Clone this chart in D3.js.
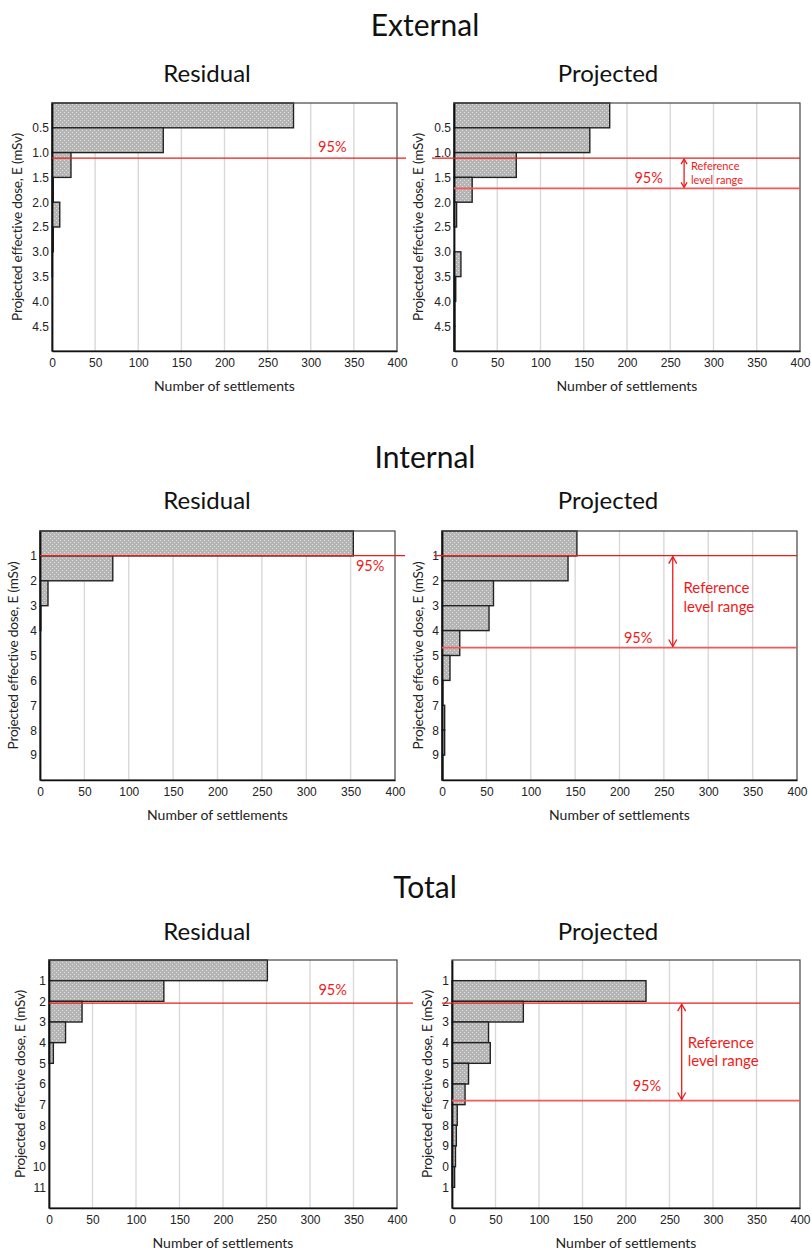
<!DOCTYPE html>
<html>
<head>
<meta charset="utf-8">
<script src="https://cdn.jsdelivr.net/npm/d3@7"></script>
<style>
  body { margin: 0; background: #fff; }
</style>
</head>
<body>
<div id="chart"></div>
<script>
// settlements per dose bin (top bin first)
const extResidual = [280, 129, 22, 1.5, 9, 1.5, 0.5, 0, 0, 0];
const extProjected = [180, 157, 72, 21, 3, 0, 8, 2, 1, 1];
const intResidual = [353, 82, 9, 1, 0, 0, 0, 0, 0, 0];
const intProjected = [152, 142, 58, 53, 20, 9, 1, 3, 3, 1];
const totResidual = [251, 132, 38, 19, 5, 0, 0, 0, 0, 0, 0, 0];
const totProjected = [0, 223, 82, 42, 44, 19, 15, 6, 5, 4, 3, 0];

// axis ticks
const countTicks = [0, 50, 100, 150, 200, 250, 300, 350, 400];
const extDoseTicks = [0.5, 1.0, 1.5, 2.0, 2.5, 3.0, 3.5, 4.0, 4.5];
const extDoseLabels = ["0.5", "1.0", "1.5", "2.0", "2.5", "3.0", "3.5", "4.0", "4.5"];
const intDoseTicks = [1, 2, 3, 4, 5, 6, 7, 8, 9];
const intDoseLabels = ["1", "2", "3", "4", "5", "6", "7", "8", "9"];
const totDoseTicks = [1, 2, 3, 4, 5, 6, 7, 8, 9, 10, 11];
const totResLabels = ["1", "2", "3", "4", "5", "6", "7", "8", "9", "10", "11"];
const totProjLabels = ["1", "2", "3", "4", "5", "6", "7", "8", "9", "0", "1"];

// dose levels of the red lines (mSv)
const ext95Residual = 1.11, ext95Projected = 1.72;
const int95Residual = 0.99, int95Projected = 4.68;
const tot95Residual = 2.09, tot95Projected = 6.8;

const sections = ["External", "Internal", "Total"];
const yTitle = "Projected effective dose, E (mSv)";
const xTitle = "Number of settlements";

const W = 811, H = 1250;
const red = "#ee1b1b";
const font = "Lato, 'Open Sans', sans-serif";
const tickFont = "'Liberation Sans', Arial, sans-serif";

const svg = d3.select("#chart").append("svg")
  .attr("width", W).attr("height", H);

const defs = svg.append("defs");
const pat = defs.append("pattern")
  .attr("id", "fill-dots")
  .attr("width", 4).attr("height", 4)
  .attr("patternUnits", "userSpaceOnUse");
pat.append("rect").attr("width", 4).attr("height", 4).attr("fill", "#b5b5b5");
pat.append("rect").attr("width", 1).attr("height", 1).attr("fill", "#e0e0e0");
pat.append("rect").attr("x", 2).attr("y", 2).attr("width", 1).attr("height", 1).attr("fill", "#e0e0e0");

// section and panel titles
const titleRows = [
  { y: 36, sub: 82 },
  { y: 468, sub: 509 },
  { y: 898, sub: 940 }
];
titleRows.forEach((r, i) => {
  svg.append("text").attr("x", 425).attr("y", r.y)
    .attr("text-anchor", "middle").attr("font-family", font)
    .attr("font-size", 30).attr("fill", "#111").text(sections[i]);
  svg.append("text").attr("x", 207).attr("y", r.sub)
    .attr("text-anchor", "middle").attr("font-family", font)
    .attr("font-size", 24).attr("fill", "#111").text("Residual");
  svg.append("text").attr("x", 608).attr("y", r.sub)
    .attr("text-anchor", "middle").attr("font-family", font)
    .attr("font-size", 24).attr("fill", "#111").text("Projected");
});

const panels = [
  { counts: extResidual, bin: 0.5, dmax: 5, ticks: extDoseTicks, labels: extDoseLabels,
    left: 52, right: 397, top: 103, bottom: 351, yTitleX: 17,
    line95: ext95Residual, lineEnd: 9, label95: { x: 325, dy: -10 } },
  { counts: extProjected, bin: 0.5, dmax: 5, ticks: extDoseTicks, labels: extDoseLabels,
    left: 454, right: 800, top: 103, bottom: 351, yTitleX: 418,
    refTop: ext95Residual, line95: ext95Projected, lineStart: 22, label95: { x: 225, dy: -9 },
    arrowX: 266, refText: { x: 274, y1: 167, y2: 181, size: 11 } },
  { counts: intResidual, bin: 1, dmax: 10, ticks: intDoseTicks, labels: intDoseLabels,
    left: 40, right: 395, top: 531, bottom: 780, yTitleX: 13,
    line95: int95Residual, lineEnd: 10, label95: { x: 372, dy: 12 } },
  { counts: intProjected, bin: 1, dmax: 10, ticks: intDoseTicks, labels: intDoseLabels,
    left: 442, right: 797, top: 531, bottom: 780, yTitleX: 418,
    refTop: int95Residual, line95: int95Projected, lineStart: 8, label95: { x: 221, dy: -8 },
    arrowX: 260, refText: { x: 272, y1: 589, y2: 608, size: 15 } },
  { counts: totResidual, bin: 1, dmax: 12, ticks: totDoseTicks, labels: totResLabels,
    left: 49, right: 397, top: 960, bottom: 1208, yTitleX: 20,
    line95: tot95Residual, lineEnd: 16, label95: { x: 326, dy: -12 } },
  { counts: totProjected, bin: 1, dmax: 12, ticks: totDoseTicks, labels: totProjLabels,
    left: 452, right: 800, top: 960, bottom: 1208, yTitleX: 427,
    refTop: tot95Residual, line95: tot95Projected, lineStart: 10, label95: { x: 224, dy: -13 },
    arrowX: 264, refText: { x: 271, y1: 1044, y2: 1062, size: 15 } }
];

panels.forEach(p => {
  const x = d3.scaleLinear().domain([0, 400]).range([p.left, p.right]);
  const y = d3.scaleLinear().domain([0, p.dmax]).range([p.top, p.bottom]);
  const g = svg.append("g");

  // vertical grid
  g.selectAll(".grid").data(countTicks.slice(1, -1)).join("line")
    .attr("class", "grid")
    .attr("x1", d => x(d)).attr("x2", d => x(d))
    .attr("y1", p.top).attr("y2", p.bottom)
    .attr("stroke", "#d9d9d9").attr("stroke-width", 1.4);

  // bars
  g.selectAll(".bar").data(p.counts.map((c, i) => ({ c, i })).filter(d => d.c > 0)).join("rect")
    .attr("class", "bar")
    .attr("x", x(0))
    .attr("y", d => y(d.i * p.bin))
    .attr("width", d => x(d.c) - x(0))
    .attr("height", d => y((d.i + 1) * p.bin) - y(d.i * p.bin))
    .attr("fill", "url(#fill-dots)")
    .attr("stroke", "#222").attr("stroke-width", 1.4);

  // frame
  g.append("rect")
    .attr("x", p.left).attr("y", p.top)
    .attr("width", p.right - p.left).attr("height", p.bottom - p.top)
    .attr("fill", "none").attr("stroke", "#444").attr("stroke-width", 1.2);

  const xa = g.append("g").attr("transform", `translate(0,${p.bottom})`)
    .call(d3.axisBottom(x).tickValues(countTicks).tickSize(0).tickPadding(7));
  xa.select(".domain").attr("stroke", "#111").attr("stroke-width", 1.5);
  xa.selectAll(".tick text").attr("font-family", tickFont).attr("font-size", 12).attr("fill", "#222");

  const ya = g.append("g").attr("transform", `translate(${p.left},0)`)
    .call(d3.axisLeft(y).tickValues(p.ticks).tickSize(0).tickPadding(3)
      .tickFormat((d, i) => p.labels[i]));
  ya.select(".domain").attr("stroke", "#111").attr("stroke-width", 1.8);
  ya.selectAll(".tick text").attr("font-family", tickFont).attr("font-size", 12).attr("fill", "#222");

  // axis titles
  g.append("text")
    .attr("x", (p.left + p.right) / 2).attr("y", p.bottom + 40)
    .attr("text-anchor", "middle").attr("font-family", font)
    .attr("font-size", 14).attr("fill", "#222").text(xTitle);
  g.append("text")
    .attr("transform", `translate(${p.yTitleX + 5},${(p.top + p.bottom) / 2}) rotate(-90)`)
    .attr("text-anchor", "middle").attr("font-family", font)
    .attr("font-size", 13.6).attr("letter-spacing", -0.2).attr("fill", "#222").text(yTitle);

  // 95% lines and reference range
  if (p.refTop === undefined) {
    g.append("line")
      .attr("x1", p.left).attr("x2", p.right + p.lineEnd)
      .attr("y1", y(p.line95)).attr("y2", y(p.line95))
      .attr("stroke", red).attr("stroke-width", 1.2);
  } else {
    const yt = y(p.refTop), yb = y(p.line95);
    g.append("line")
      .attr("x1", p.left - p.lineStart).attr("x2", p.right)
      .attr("y1", yt).attr("y2", yt)
      .attr("stroke", red).attr("stroke-width", 1.2);
    g.append("line")
      .attr("x1", p.left).attr("x2", p.right)
      .attr("y1", yb).attr("y2", yb)
      .attr("stroke", "#f05a5a").attr("stroke-width", 1.8);

    const ax = x(p.arrowX);
    const hw = p.refText.size > 12 ? 4 : 3, hh = p.refText.size > 12 ? 7 : 5;
    g.append("line").attr("x1", ax).attr("x2", ax)
      .attr("y1", yt + 1).attr("y2", yb - 1)
      .attr("stroke", red).attr("stroke-width", 1.3);
    g.append("polyline")
      .attr("points", `${ax - hw},${yt + 1 + hh} ${ax},${yt + 1} ${ax + hw},${yt + 1 + hh}`)
      .attr("fill", "none").attr("stroke", red).attr("stroke-width", 1.3);
    g.append("polyline")
      .attr("points", `${ax - hw},${yb - 1 - hh} ${ax},${yb - 1} ${ax + hw},${yb - 1 - hh}`)
      .attr("fill", "none").attr("stroke", red).attr("stroke-width", 1.3);

    const rt = p.refText;
    g.append("text").attr("x", x(rt.x)).attr("y", rt.y1)
      .attr("dominant-baseline", "middle").attr("font-family", font)
      .attr("font-size", rt.size).attr("fill", red).text("Reference");
    g.append("text").attr("x", x(rt.x)).attr("y", rt.y2)
      .attr("dominant-baseline", "middle").attr("font-family", font)
      .attr("font-size", rt.size).attr("fill", red).text("level range");
  }

  g.append("text")
    .attr("x", x(p.label95.x)).attr("y", y(p.line95) + p.label95.dy)
    .attr("text-anchor", "middle").attr("dominant-baseline", "middle")
    .attr("font-family", font).attr("font-size", 14.5).attr("fill", red).text("95%");
});
</script>
</body>
</html>
